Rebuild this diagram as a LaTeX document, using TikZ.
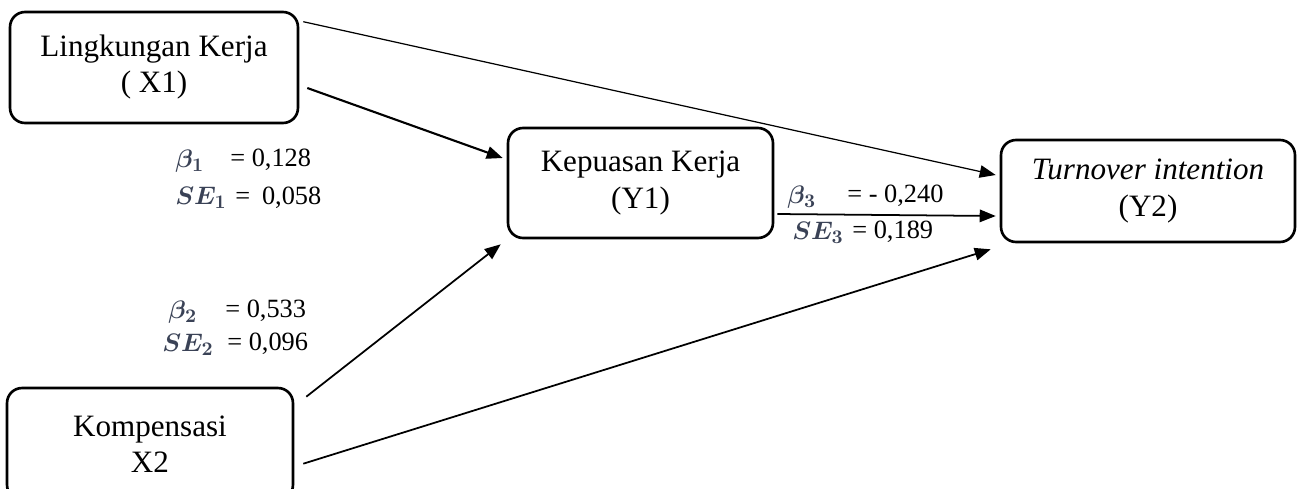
\documentclass[tikz,border=0pt]{standalone}
\usepackage{fontspec}
\setmainfont{Liberation Serif}
\usepackage{xcolor}
\usepackage{tikz}
\usetikzlibrary{
  arrows.meta,
  positioning,
  calc
}
\definecolor{SymbolInk}{HTML}{3A4256}
\tikzset{
  varbox/.style={
    draw,
    rounded corners=0.3cm,
    line width=1.5pt,
    align=center,
    inner sep=0pt,
    font=\fontsize{17.7}{20.5}\selectfont
  },
  coefficient/.style={
    anchor=west,
    inner sep=0pt,
    font=\fontsize{15}{18}\selectfont
  },
  coefsymbol/.style={
    coefficient,
    text=SymbolInk,
    font=\fontsize{15.5}{18}\selectfont\boldmath
  },
  effect/.style={
    -{Triangle[length=0.32cm,width=0.25cm]},
    line width=1pt
  }
}

\begin{document}
\begin{tikzpicture}[x=0.02cm,y=-0.02cm]

  \useasboundingbox (0,0) rectangle (1302,488);

  \node[
    varbox,
    minimum width=5.76cm,
    minimum height=2.22cm
  ] at (154,67.5) (x1) {
    Lingkungan Kerja\\( X1)
  };

  \node[
    varbox,
    minimum width=5.3cm,
    minimum height=2.2cm
  ] at (640.5,183) (y1) {
    Kepuasan Kerja\\(Y1)
  };

  \node[
    varbox,
    minimum width=5.88cm,
    minimum height=2.04cm
  ] at (1148,191) (y2) {
    \textit{Turnover intention}\\(Y2)
  };

  \node[
    varbox,
    minimum width=5.72cm,
    minimum height=2.24cm
  ] at (150,444) (x2) {
    Kompensasi\\X2
  };

  \draw[effect,line width=0.7pt]
  ($(x1.north east)+(4,11)$) --
  ($(y2.west)+(-4,-16)$);

  \draw[effect,line width=1.2pt]
  ($(x1.east)+(8,20.5)$) --
  ($(y1.west)+(-4,-25)$);

  \draw[effect]
  ($(x2.north east)+(12,10)$) --
  ($(y1.south west)+(-6,5)$);

  \draw[effect]
  ($(x2.north east)+(9,77)$) --
  ($(y2.south west)+(-9,6)$);

  \draw[effect]
  ($(y1.east)+(3,31)$) --
  ($(y2.west)+(-4,25)$);

  \node[coefsymbol] at (175,161) (b1) {$\beta_1$};
  \node[coefficient] at (230,160) (b1v) {= 0,128};
  \node[coefsymbol] at (175,198) (se1) {$SE_1$};
  \node[coefficient] at (235,198) (se1v) {=\hspace{0.45em}0,058};

  \node[coefsymbol] at (168,312) (b2) {$\beta_2$};
  \node[coefficient] at (225,311) (b2v) {= 0,533};
  \node[coefsymbol] at (162,345) (se2) {$SE_2$};
  \node[coefficient] at (227,344) (se2v) {= 0,096};

  \node[coefsymbol] at (787,197) (b3) {$\beta_3$};
  \node[coefficient] at (847,196) (b3v) {= - 0,240};
  \node[coefsymbol] at (792,233) (se3) {$SE_3$};
  \node[coefficient] at (852,232) (se3v) {= 0,189};

\end{tikzpicture}
\end{document}
